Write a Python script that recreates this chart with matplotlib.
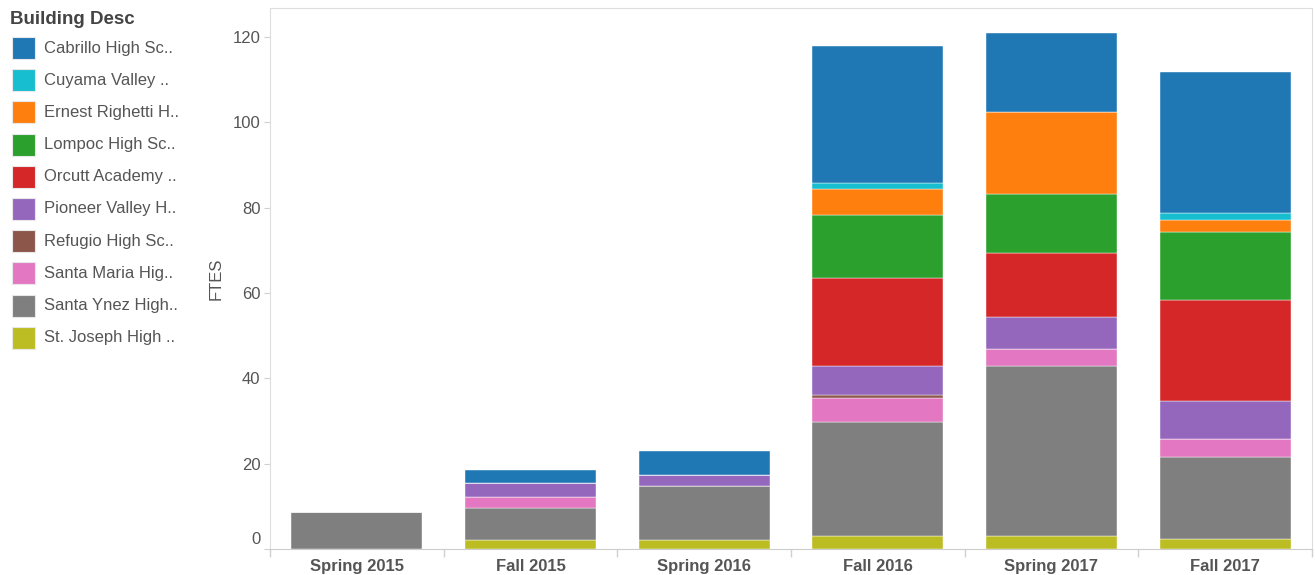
import numpy as np
import matplotlib
matplotlib.use("Agg")
import matplotlib.pyplot as plt
import matplotlib.transforms as mtransforms
from matplotlib.patches import Rectangle

plt.rcParams["font.family"] = ["Liberation Sans", "DejaVu Sans"]

terms = ["Spring 2015", "Fall 2015", "Spring 2016", "Fall 2016", "Spring 2017", "Fall 2017"]

# legend labels as shown (truncated)
schools = ["Cabrillo High Sc..", "Cuyama Valley ..", "Ernest Righetti H..", "Lompoc High Sc..",
           "Orcutt Academy ..", "Pioneer Valley H..", "Refugio High Sc..", "Santa Maria Hig..",
           "Santa Ynez High..", "St. Joseph High .."]
colors = ["#1f77b4", "#17becf", "#ff7f0e", "#2ca02c", "#d62728",
          "#9467bd", "#8c564b", "#e377c2", "#7f7f7f", "#bcbd22"]

# FTES per term, one list per school
cabrillo = [0, 3.0, 5.6, 31.9, 18.5, 33.0]
cuyama = [0, 0, 0, 1.5, 0, 1.5]
righetti = [0, 0, 0, 6.1, 19.2, 3.0]
lompoc = [0, 0, 0, 14.7, 13.9, 15.8]
orcutt = [0, 0, 0, 20.6, 15.0, 23.7]
pioneer = [0, 3.3, 2.6, 6.8, 7.5, 9.0]
refugio = [0, 0, 0, 0.8, 0, 0]
santa_maria = [0, 2.6, 0, 5.6, 3.8, 4.2]
santa_ynez = [8.7, 7.5, 12.7, 26.8, 40.0, 19.2]
st_joseph = [0, 2.1, 2.1, 3.0, 3.0, 2.3]

series = [cabrillo, cuyama, righetti, lompoc, orcutt, pioneer, refugio,
          santa_maria, santa_ynez, st_joseph]

W, H = 1315, 575
fig = plt.figure(figsize=(W / 100, H / 100), dpi=100)
ax = fig.add_axes([270 / W, 1 - 549 / H, (1312 - 270) / W, (549 - 8) / H])

x = np.arange(len(terms))
bottom = np.zeros(len(terms))
# stack from bottom (St. Joseph) to top (Cabrillo)
for vals, c in zip(series[::-1], colors[::-1]):
    v = np.array(vals)
    ax.bar(x, v, bottom=bottom, width=0.755, color=c, edgecolor="white", linewidth=0.3)
    bottom += v

ax.set_xlim(-0.5, len(terms) - 0.5)
ax.set_ylim(0, 126.8)
ax.set_yticks([0, 20, 40, 60, 80, 100, 120])
ax.set_xticks(x)
ax.set_xticklabels(terms, fontweight="bold", color="#555555", fontsize=12)
ax.set_xticks(np.arange(len(terms) + 1) - 0.5, minor=True)
ax.tick_params(axis="x", which="major", length=0, pad=7)
ax.tick_params(axis="x", which="minor", length=6, color="#d0d0d0", width=1)
ax.tick_params(axis="y", length=4, color="#d0d0d0", labelcolor="#555555", labelsize=12, pad=3)
ax.set_ylabel("FTES", color="#555555", fontsize=12, labelpad=6)

# nudge the "0" label up like the original
zero_lbl = ax.get_yticklabels()[0]
zero_lbl.set_transform(zero_lbl.get_transform() +
                       mtransforms.ScaledTranslation(0, 11 / 100, fig.dpi_scale_trans))

for s in ax.spines.values():
    s.set_color("#dddddd")
ax.spines["bottom"].set_color("#cccccc")

# legend on the left
fig.text(10 / W, 1 - 19 / H, "Building Desc", fontsize=13.5, fontweight="bold",
         color="#444444", va="center", ha="left")
lax = fig.add_axes([0, 0, 1, 1])
lax.set_xlim(0, W)
lax.set_ylim(H, 0)
lax.axis("off")
for i, (name, c) in enumerate(zip(schools, colors)):
    yc = 48 + i * 32.2
    lax.add_patch(Rectangle((12, yc - 11), 23, 22, facecolor=c, edgecolor="#e8e8e8", linewidth=0.8))
    lax.text(44, yc, name, fontsize=12, color="#555555", va="center", ha="left")

fig.savefig("out.png", dpi=100)
